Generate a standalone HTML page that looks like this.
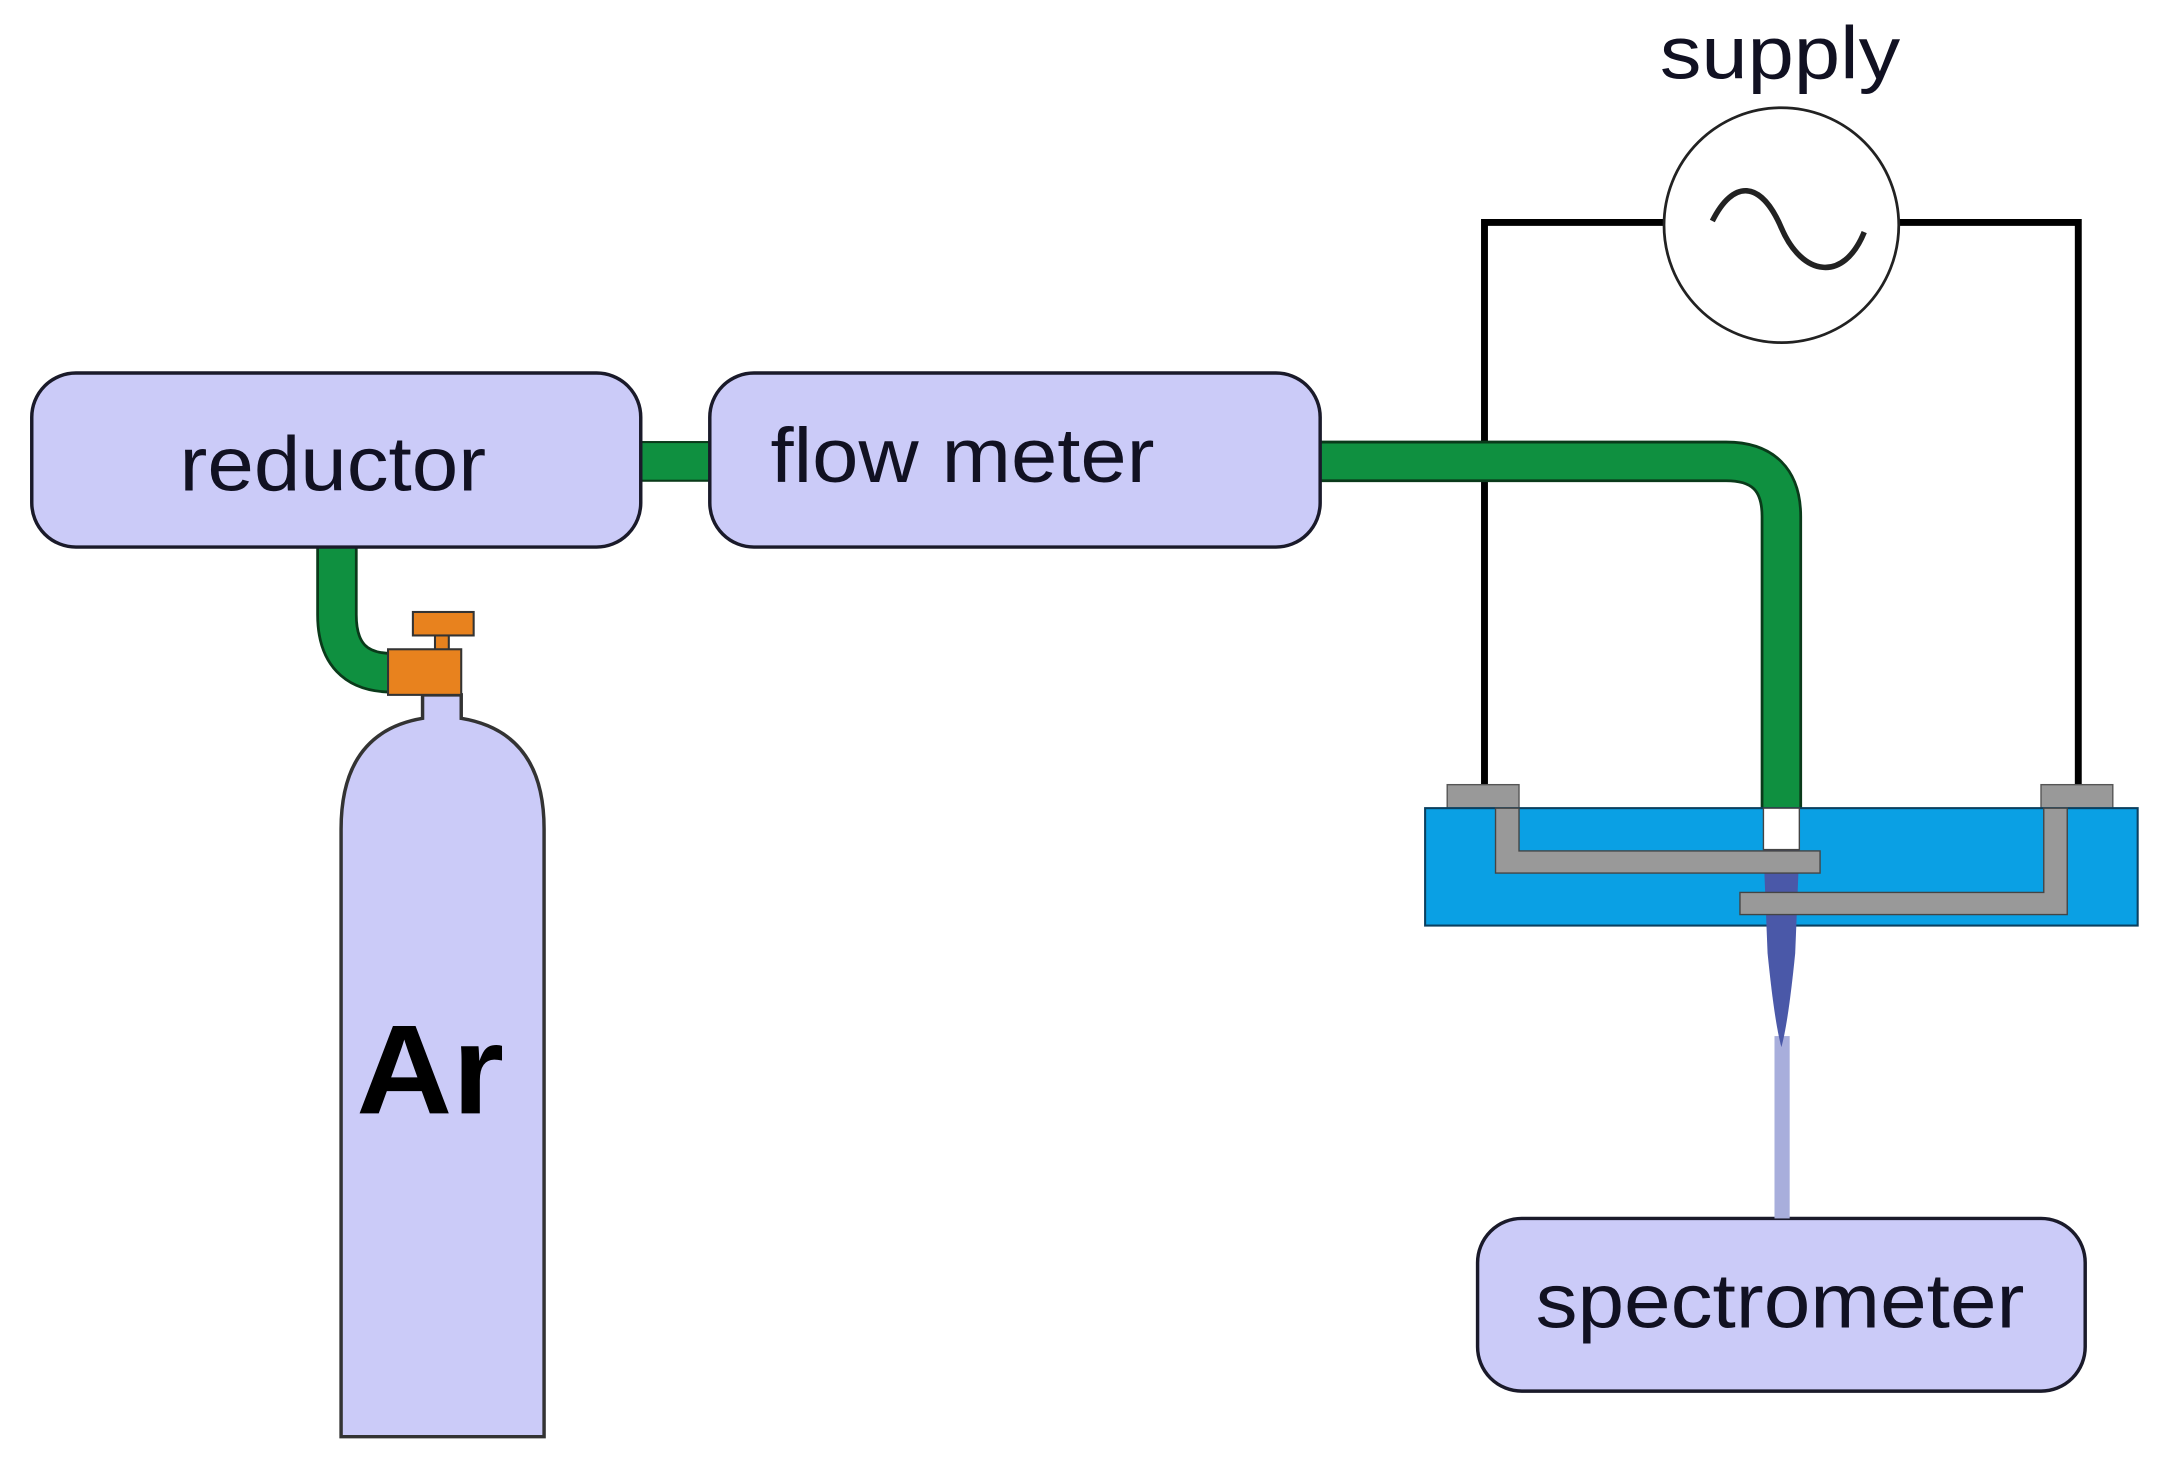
<!DOCTYPE html>
<html><head><meta charset="utf-8"><style>
html,body{margin:0;padding:0;background:#fff;}
svg{display:block;}
text{font-family:"Liberation Sans",sans-serif;fill:#111122;}
</style></head><body>
<svg width="2157" height="1474" viewBox="0 0 1562 1067" preserveAspectRatio="none" xmlns="http://www.w3.org/2000/svg">
<rect width="1562" height="1067" fill="#fff"/>
<path d="M1205 161 H1075 V572" fill="none" stroke="#000" stroke-width="5"/>
<path d="M1375 161 H1505 V572" fill="none" stroke="#000" stroke-width="5"/>
<text x="1202" y="57" font-size="54" textLength="174" lengthAdjust="spacingAndGlyphs">supply</text>
<circle cx="1290" cy="163" r="85" fill="#fff" stroke="#222" stroke-width="2"/>
<path d="M1240 160 C1255 130,1275 130,1290 165 C1305 200,1335 205,1350 168" fill="none" stroke="#222" stroke-width="4"/>
<rect x="460" y="320" width="58" height="28" fill="#0f9040" stroke="#0a3a1a" stroke-width="1.5"/>
<path d="M956 334 H1250 Q1290 334 1290 374 V587" fill="none" stroke="#0a3a1a" stroke-width="30"/>
<path d="M956 334 H1250 Q1290 334 1290 374 V587" fill="none" stroke="#0f9040" stroke-width="26"/>
<path d="M244 392 V445 Q244 487 284 487" fill="none" stroke="#0a3a1a" stroke-width="30"/>
<path d="M244 392 V445 Q244 487 284 487" fill="none" stroke="#0f9040" stroke-width="26"/>
<rect x="23" y="270" width="441" height="126" rx="32" fill="#cbcbf8" stroke="#1a1a2a" stroke-width="2.5"/>
<text x="130" y="355" font-size="56" textLength="222" lengthAdjust="spacingAndGlyphs">reductor</text>
<rect x="514" y="270" width="442" height="126" rx="32" fill="#cbcbf8" stroke="#1a1a2a" stroke-width="2.5"/>
<text x="558" y="349" font-size="56" textLength="278" lengthAdjust="spacingAndGlyphs">flow meter</text>
<rect x="1070" y="882" width="440" height="125" rx="32" fill="#cbcbf8" stroke="#1a1a2a" stroke-width="2.5"/>
<text x="1112" y="961" font-size="56" textLength="354" lengthAdjust="spacingAndGlyphs">spectrometer</text>
<path d="M247 1040 V600 Q247 530 306 520 V503 H334 V520 Q394 530 394 600 V1040 Z" fill="#cbcbf8" stroke="#333" stroke-width="2.5"/>
<text x="258" y="806" font-size="92" font-weight="bold" textLength="107" lengthAdjust="spacingAndGlyphs" style="fill:#000">Ar</text>
<rect x="315" y="459" width="10" height="12" fill="#e8821e" stroke="#333" stroke-width="1.5"/>
<rect x="299" y="443" width="44" height="17" fill="#e8821e" stroke="#333" stroke-width="1.5"/>
<rect x="281" y="470" width="53" height="33" fill="#e8821e" stroke="#333" stroke-width="1.5"/>
<rect x="1285" y="750" width="11" height="132" fill="#a8aedc"/>
<rect x="1048" y="568" width="52" height="19" fill="#999" stroke="#555" stroke-width="1"/>
<rect x="1478" y="568" width="52" height="19" fill="#999" stroke="#555" stroke-width="1"/>
<rect x="1032" y="585" width="516" height="85" fill="#0aa0e4" stroke="#0a4060" stroke-width="1.5"/>
<path d="M1277 615 L1303 615 L1300 690 Q1295 740 1290 758 Q1285 740 1280 690 Z" fill="#4a58a8"/>
<rect x="1277" y="585" width="26" height="30" fill="#fff" stroke="#444" stroke-width="1"/>
<path d="M1083 585 H1100 V616 H1318 V632 H1083 Z" fill="#999" stroke="#444" stroke-width="1"/>
<path d="M1480 585 H1497 V662 H1260 V646 H1480 Z" fill="#999" stroke="#444" stroke-width="1"/>
</svg>
</body></html>
